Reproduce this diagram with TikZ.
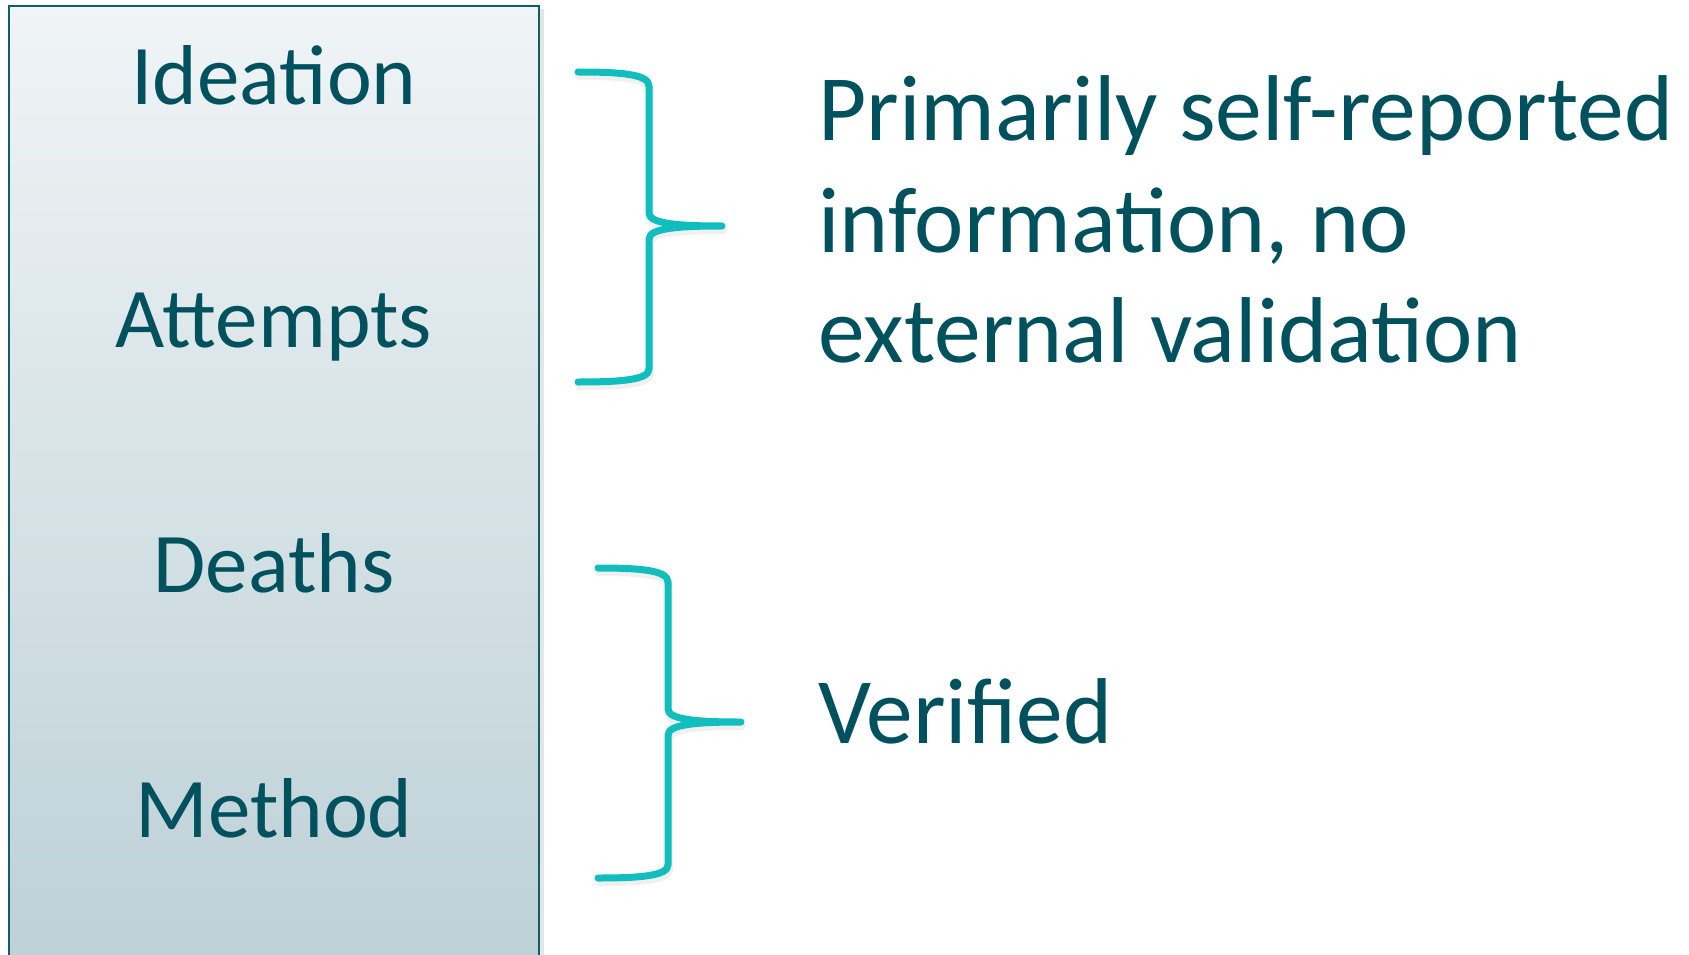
\documentclass[tikz,border=0pt]{standalone}
\usepackage{fontspec}
\setmainfont{Carlito}
\definecolor{txt}{RGB}{0,81,94}
\definecolor{brc}{RGB}{16,190,190}
\definecolor{boxline}{RGB}{15,95,105}
\definecolor{boxtop}{RGB}{240,244,246}
\definecolor{boxbot}{RGB}{189,209,215}
\tikzset{
  lbl/.style={anchor=base, text=txt, inner sep=0pt, font=\fontsize{85}{102}\selectfont},
  rlbl/.style={anchor=base west, text=txt, inner sep=0pt, font=\fontsize{93.5}{110}\selectfont},
  bracel/.style={draw=brc, line width=7pt, line cap=round, line join=round},
  braceshadow/.style={draw=black!20, opacity=0.3, line width=8pt, line cap=round, line join=round}
}
\begin{document}
\begin{tikzpicture}[x=1pt,y=-1pt]
\useasboundingbox (0,0) rectangle (1689,955);
% box shadow
\fill[black!10] (540,9) rectangle (544,955);
% box
\shade[top color=boxtop, bottom color=boxbot] (8.6,6.4) rectangle (538.6,955);
\draw[boxline, line width=2pt] (8.6,955) -- (8.6,6.4) -- (538.6,6.4) -- (538.6,955);
% left labels
\node[lbl] (ideation) at (274,104.5) {Ideation};
\node[lbl] (attempts) at (274,347) {Attempts};
\node[lbl] (deaths) at (274,592.5) {Deaths};
\node[lbl] (method) at (274,837) {Method};
% right labels
\node[rlbl] (self1) at (818,140) {Primarily self-reported};
\node[rlbl] (self2) at (818,252) {information, no};
\node[rlbl] (self3) at (818,362) {external validation};
\node[rlbl] (verified) at (818,743) {Verified};
% brace 1
\coordinate (b1top) at (578,72);
\coordinate (b1tip) at (722,226);
\coordinate (b1bot) at (578,382);
\draw[braceshadow] ([shift={(1,4)}]b1top) .. controls (621,76) and (650,78) .. (650,90) -- (650,217) .. controls (650,228) and (681,230) .. (723,230) .. controls (681,230) and (650,232) .. (650,243) -- (650,373) .. controls (650,384) and (621,386) .. ([shift={(1,4)}]b1bot);
\draw[bracel] (b1top) .. controls (620,72) and (649,74) .. (649,86) -- (649,213) .. controls (649,224) and (680,226) .. (b1tip) .. controls (680,226) and (649,228) .. (649,239) -- (649,369) .. controls (649,380) and (620,382) .. (b1bot);
% brace 2
\coordinate (b2top) at (598,568);
\coordinate (b2tip) at (741,722);
\coordinate (b2bot) at (598,878);
\draw[braceshadow] ([shift={(1,4)}]b2top) .. controls (640,572) and (669,574) .. (669,586) -- (669,713) .. controls (669,724) and (700,726) .. (742,726) .. controls (700,726) and (669,728) .. (669,739) -- (669,869) .. controls (669,880) and (640,882) .. ([shift={(1,4)}]b2bot);
\draw[bracel] (b2top) .. controls (639,568) and (668,570) .. (668,582) -- (668,709) .. controls (668,720) and (699,722) .. (b2tip) .. controls (699,722) and (668,724) .. (668,735) -- (668,865) .. controls (668,876) and (639,878) .. (b2bot);
\end{tikzpicture}
\end{document}
